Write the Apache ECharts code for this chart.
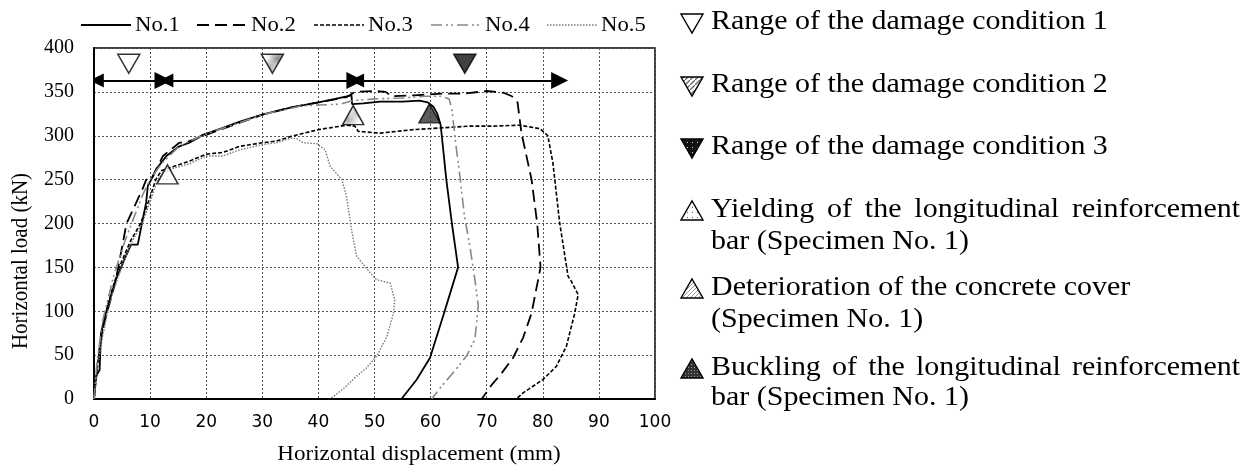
<!DOCTYPE html>
<html><head><meta charset="utf-8">
<script src="https://cdn.jsdelivr.net/npm/echarts@6/dist/echarts.min.js"></script>
<style>html,body{margin:0;padding:0;background:#fff}#c{width:1247px;height:468px}</style>
</head><body><div id="c"></div>
<script>
// ---------- data ----------
const seriesNames = ['No.1','No.2','No.3','No.4','No.5'];
const no1X = [0,0.35,1,1.25,2.1,3.9,5.7,6.6,7.8,8.7,9.3,9.6,10.2,11.1,12.9,15.2,17,19.4,23,26,30,35,40,43,45.9,46,48,51,55,58,59.5,60.5,61.2,61.8,62.8,63.8,64.9,62.5,59.9,57.5,54.8];
const no1Y = [0,26,33,75,98,136,163,176,176,205,224,243,250,262,277,288,292,301,309,316,324,332,338,342,346,336,337,339,339,340,338,333,325,312,250,200,150,100,47,22,0];
const no2X = [0,0.36,1.5,3.9,5.8,8.7,9.3,10.2,12.3,15.2,17,20,26,30,35,40,45,46.5,50,52,53,57,62,66,70,73,74.5,75.5,76.2,78,79,79.6,78,76.5,74.7,72.5,71,69.1];
const no2Y = [0,22,79,136,200,240,250,250,277,292,294,301,315,324,332,338,344,350,351,350,345,346,348,348,351,349,345,338,303,250,200,150,98,70,47,28,17,0];
const no3X = [0,0.5,1,2,3,4.5,6.5,8.3,10,11,12,13.75,17,20,23,26,30,32.5,35,40,45,46.5,47.1,51,56.9,62,67,71.2,75.9,79.5,80.9,81.8,83,84.5,85.1,86.3,85.7,84.2,82.4,80,76.5,75.3];
const no3Y = [0,30,60,95,120,150,180,200,230,250,260,264,271,279,281,288,292,294,299,307,312,311,305,303,307,309,311,311,312,308,300,269,201,140,134,119,98,60,37,22,7,0];
const no4X = [0,0.5,1.5,3.5,5.5,7,8.7,10,12,15,17,20,26,30,35,37,40,44,46,50,55,59,62,63.3,63.8,64.5,65.3,66,67,67.9,68.5,67.9,66.4,64.3,62,60.2];
const no4Y = [0,40,88,140,180,205,233,250,268,287,294,302,315,324,331,334,335,336,340,342,343,345,345,342,330,290,250,210,174,136,106,68,49,32,15,0];
const no5X = [0,0.4,1.2,2.3,3.3,4.9,6.8,8.6,10.3,11.3,12.5,13.75,17,20,23,26,30,32.5,35,36.1,37.3,39.7,41.2,42.1,44.2,45,45.9,46.8,49.2,50.4,52.8,53.6,53.4,52.2,50.4,48.5,46.8,44.5,42.1];
const no5Y = [0,25,60,95,120,150,180,200,230,250,258,262,268,277,277,284,290,292,297,297,292,291,284,265,250,231,193,163,144,136,132,113,98,71,49,35,26,12,0];

// damage condition ranges (arrows) and their markers
const rangeStart = [0.5, 12.9, 46.9];
const rangeEnd   = [12.3, 46.5, 83];
const rangeLoad  = 363;
const rangeMarkX = [6.2, 31.8, 66.1];
const rangeMarkY = 382;
// events of specimen No.1: yielding, deterioration, buckling
const eventX = [13.1, 46.2, 59.8];
const eventY = [256, 323.5, 325.5];

const xTicks = {min:0, max:100, step:10};
const yTicks = {min:0, max:400, step:50};
const xTitle = 'Horizontal displacement (mm)';
const yTitle = 'Horizontal load (kN)';

const legendTexts = [
  ['Range of the damage condition 1'],
  ['Range of the damage condition 2'],
  ['Range of the damage condition 3'],
  ['Yielding of the longitudinal reinforcement','bar (Specimen No. 1)'],
  ['Deterioration of the concrete cover','(Specimen No. 1)'],
  ['Buckling of the longitudinal reinforcement','bar (Specimen No. 1)']
];

// ---------- patterns ----------
function pat(w,h,bg,draw){const c=document.createElement('canvas');c.width=w;c.height=h;const g=c.getContext('2d');g.fillStyle=bg;g.fillRect(0,0,w,h);draw(g);return {image:c,repeat:'repeat'};}
const hatch = pat(5,5,'#fff',g=>{g.strokeStyle='#666';g.lineWidth=1.3;g.beginPath();g.moveTo(0,5);g.lineTo(5,0);g.stroke();});
const darkDots = pat(5,5,'#111',g=>{g.fillStyle='#ddd';g.fillRect(2,2,1,1);});
const lightDots = pat(5,5,'#fff',g=>{g.fillStyle='#555';g.fillRect(2,2,1,1);});
const grayHatch = pat(4,4,'#fff',g=>{g.strokeStyle='#999';g.beginPath();g.moveTo(0,4);g.lineTo(4,0);g.stroke();});
const buckle = pat(3,3,'#333',g=>{g.fillStyle='#999';g.fillRect(1,1,1,1);});

const serif = '"Liberation Serif","Times New Roman",serif';
const zip = (a,b)=>a.map((v,i)=>[v,b[i]]);
const lineStyles = [
  {color:'#000',width:1.8,type:'solid'},
  {color:'#000',width:1.8,type:[12,6]},
  {color:'#000',width:1.6,type:[4,2]},
  {color:'#888',width:1.6,type:[11,4,2,3,2,4]},
  {color:'#777',width:1.4,type:[1.5,1.5]}
];
const dataX=[no1X,no2X,no3X,no4X,no5X], dataY=[no1Y,no2Y,no3Y,no4Y,no5Y];

const series = seriesNames.map((n,i)=>({
  name:n, type:'line', symbol:'none', data:zip(dataX[i],dataY[i]),
  lineStyle:lineStyles[i], itemStyle:{color:lineStyles[i].color}, z:3, silent:true
}));
series.push({
  type:'lines', coordinateSystem:'cartesian2d', symbol:['triangle','triangle'], symbolSize:[14,17],
  lineStyle:{color:'#000',width:2,opacity:1}, z:4, silent:true,
  data: rangeStart.map((s,i)=>({coords:[[s,rangeLoad],[rangeEnd[i],rangeLoad]]}))
});
const rangeFills=['#fff',hatch,darkDots];
series.push({
  type:'scatter', symbol:'triangle', symbolRotate:180, symbolSize:[22,19], z:5, silent:true,
  data: rangeMarkX.map((x,i)=>({value:[x,rangeMarkY], itemStyle:{color:rangeFills[i],borderColor:'#000',borderWidth:1.5}}))
});
const eventFills=[lightDots,grayHatch,buckle];
series.push({
  type:'scatter', symbol:'triangle', symbolSize:[21,19], z:5, silent:true,
  data: eventX.map((x,i)=>({value:[x,eventY[i]], itemStyle:{color:eventFills[i],borderColor:'#000',borderWidth:1.5}}))
});

// ---------- graphics: top legend, titles, right-hand key ----------
const graphics=[];
function txt(s,x,y,size,sx,align){graphics.push({type:'text',x:x,y:y,scaleX:sx||1,
  style:{text:s,font:size+'px "Liberation Serif"',fill:'#000',align:align||'left',textAlign:align||'left',verticalAlign:'middle',textVerticalAlign:'middle'}});}
// top legend (line samples)
const legLineX=[81,197,314,431,547];
seriesNames.forEach((n,i)=>{
  const ls=lineStyles[i];
  graphics.push({type:'line',shape:{x1:legLineX[i],y1:25,x2:legLineX[i]+50,y2:25},
    style:{stroke:ls.color,lineWidth:ls.width,lineDash:Array.isArray(ls.type)?ls.type:null}});
  txt(n,legLineX[i]+54,25,21,1.08);
});
txt(xTitle,419,454,21,1.1,'center');
graphics.push({type:'text',x:21,y:261,rotation:Math.PI/2,scaleY:1.1,
  style:{text:yTitle,font:'21px "Liberation Serif"',fill:'#000',align:'center',textAlign:'center',verticalAlign:'middle',textVerticalAlign:'middle'}});

// right-hand key
const KF=28, KS=1.07, TX=711, RIGHT=1240, SX=692;
const mctx=document.createElement('canvas').getContext('2d');
mctx.font=KF+'px "Liberation Serif"';
const rowY=[[22],[85],[147],[210,242],[288,320],[368,398]];
function justified(s,y){
  const w=s.split(' ');const ws=w.map(t=>mctx.measureText(t).width*KS);
  const tot=ws.reduce((a,b)=>a+b,0);const gap=Math.max(KS*6,(RIGHT-TX-tot)/(w.length-1));
  let cx=TX;w.forEach((t,i)=>{txt(t,cx,y,KF,KS);cx+=ws[i]+gap;});
}
const legFills=['#fff',hatch,darkDots,lightDots,grayHatch,buckle];
legendTexts.forEach((lines,i)=>{
  const y=rowY[i][0]+1;
  const pts = i<3 ? [[SX-11,y-9],[SX+11,y-9],[SX,y+10]] : [[SX-11,y+9],[SX+11,y+9],[SX,y-10]];
  graphics.push({type:'polygon',shape:{points:pts},style:{fill:legFills[i],stroke:'#000',lineWidth:1.4}});
  lines.forEach((l,j)=>{
    if(lines.length>1 && j===0 && i!==4) justified(l,rowY[i][j]); else txt(l,TX,rowY[i][j],KF,KS);
  });
});

const chart=echarts.init(document.getElementById('c'),null,{renderer:'canvas'});
chart.setOption({
  animation:false,
  backgroundColor:'#fff',
  legend:{show:false},
  grid:{left:94,right:592,top:48,bottom:69,show:true,borderColor:'#000',borderWidth:1.5,containLabel:false},
  xAxis:{type:'value',min:xTicks.min,max:xTicks.max,interval:xTicks.step,
    axisLine:{lineStyle:{color:'#000',width:2}},axisTick:{show:false},
    splitLine:{show:true,lineStyle:{color:'#555',width:1,type:[2,2]}},
    axisLabel:{fontFamily:'"DejaVu Sans",sans-serif',fontSize:17,color:'#000',margin:15}},
  yAxis:{type:'value',min:yTicks.min,max:yTicks.max,interval:yTicks.step,
    axisLine:{show:true,lineStyle:{color:'#000',width:2}},axisTick:{show:false},
    splitLine:{show:true,lineStyle:{color:'#555',width:1,type:[2,2]}},
    axisLabel:{fontFamily:serif,fontSize:20,color:'#000',margin:20}},
  graphic:graphics,
  series:series
});
</script></body></html>
